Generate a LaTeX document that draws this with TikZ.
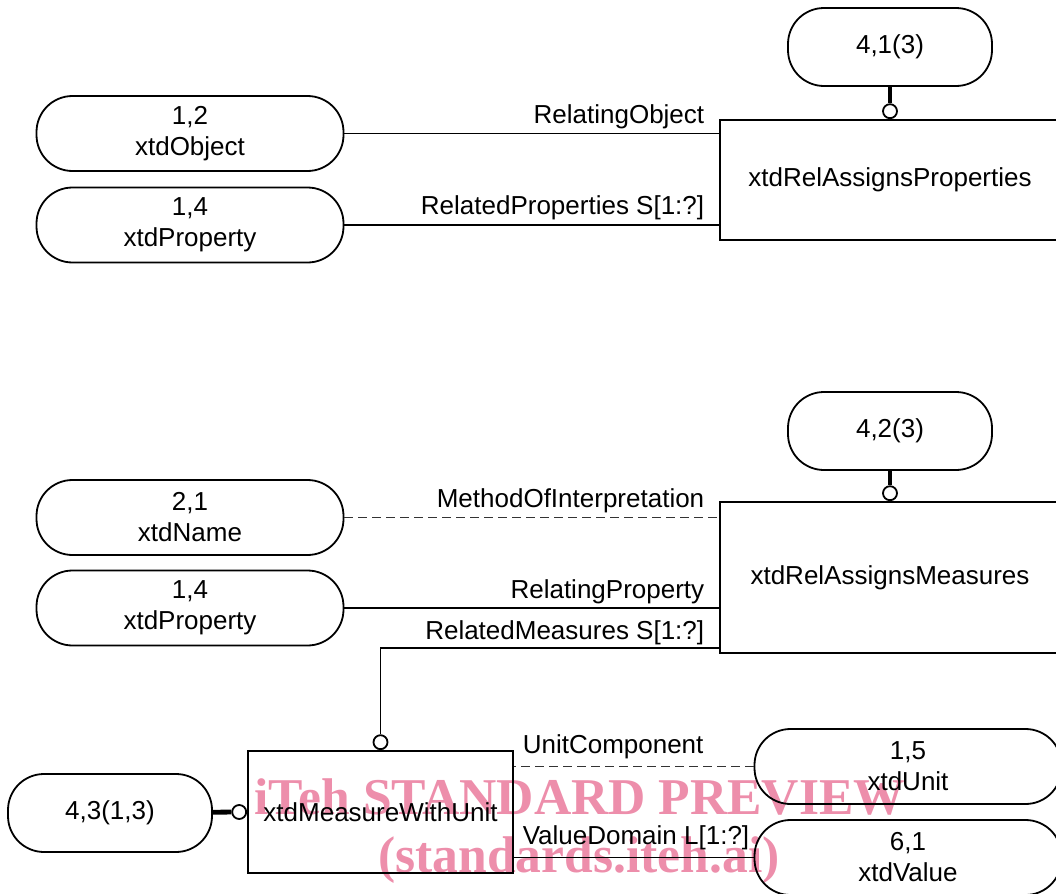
\documentclass[tikz,border=0pt]{standalone}
\usepackage{fontspec}
\setmainfont{Liberation Sans}
\newfontfamily\wmfont{Liberation Serif}
\usetikzlibrary{positioning}
\definecolor{wmpink}{RGB}{237,142,171}
\tikzset{
    pill/.style={draw, rectangle, rounded corners=18pt, line width=0.9pt,
        minimum width=153.5pt, minimum height=37.5pt, align=center,
        font=\fontsize{13}{15.5}\selectfont},
    smallpill/.style={pill, minimum width=102pt, minimum height=39pt},
    entity/.style={draw, rectangle, line width=0.9pt, inner sep=0pt,
        font=\fontsize{13}{15.5}\selectfont},
    ring/.style={draw, circle, line width=0.9pt, inner sep=0pt, minimum size=7pt, fill=white},
    thickln/.style={line width=2.4pt},
    thinln/.style={line width=0.9pt},
    dashln/.style={line width=0.9pt, black!80, dash pattern=on 4.5pt off 2.5pt},
    lbl/.style={anchor=base east, xshift=-7pt, yshift=5pt, inner sep=0pt,
        text=black, font=\fontsize{13}{15.5}\selectfont},
    lbr/.style={anchor=base west, xshift=4pt, yshift=6.5pt, inner sep=0pt,
        text=black, font=\fontsize{13}{15.5}\selectfont},
    wm/.style={anchor=base, inner sep=0pt, text=wmpink,
        font=\wmfont\bfseries\fontsize{25.8}{29}\selectfont}
}

\begin{document}
\begin{tikzpicture}[x=0.5pt, y=-0.5pt]
    \useasboundingbox (0,0) rectangle (1056,894);
    \clip (0,0) rectangle (1056,894);

    % watermark
    \node[wm] (wm1) at (580,814) {iTeh STANDARD PREVIEW};
    \node[wm] (wm2) at (579,872) {(standards.iteh.ai)};

    % upper part
    \node[smallpill] (p41) at (890,47) {4,1(3)};
    \node[entity, minimum width=170pt, minimum height=60pt] (rap) at (890,180) {xtdRelAssignsProperties};
    \node[ring, above=0pt of rap] (c41) {};
    \node[pill] (obj) at (190,133.5) {1,2\\xtdObject};
    \node[pill] (prop1) at (190,225) {1,4\\xtdProperty};

    \draw[thickln] (p41) -- (c41);
    \draw[thinln] (obj.east) -- (obj.east -| rap.west) node[lbl] {RelatingObject};
    \draw[thinln] (prop1.east) -- (prop1.east -| rap.west) node[lbl, yshift=0.5pt] {RelatedProperties S[1:?]};

    % lower part
    \node[smallpill] (p42) at (890,431) {4,2(3)};
    \node[entity, minimum width=170pt, minimum height=75.5pt] (ram) at (890,577.5) {xtdRelAssignsMeasures};
    \node[ring, above=0pt of ram] (c42) {};
    \node[pill] (name) at (190,517.5) {2,1\\xtdName};
    \node[pill] (prop2) at (190,608) {1,4\\xtdProperty};

    \draw[thickln] (p42) -- (c42);
    \draw[dashln] (name.east) -- (name.east -| ram.west) node[lbl] {MethodOfInterpretation};
    \draw[thinln] (prop2.east) -- (prop2.east -| ram.west) node[lbl] {RelatingProperty};

    \node[entity, minimum width=132.5pt, minimum height=61pt] (mwu) at (380.5,812) {xtdMeasureWithUnit};
    \node[ring, above=0pt of mwu] (cmw) {};
    \node[ring, left=0pt of mwu] (c43) {};
    \node[smallpill] (p43) at (110,813) {4,3(1,3)};
    \node[pill] (unit) at (908,766.5) {1,5\\xtdUnit};
    \node[pill] (val) at (908,857.5) {6,1\\xtdValue};

    \draw[thinln] ([yshift=3pt]ram.south west) node[lbl, yshift=-1pt] {RelatedMeasures S[1:?]} -| (cmw.north);
    \draw[thickln] (p43) -- (c43);
    \draw[dashln] (unit.west) -- (unit.west -| mwu.east) node[lbr] {UnitComponent};
    \draw[thinln] (val.west) -- (val.west -| mwu.east) node[lbr] {ValueDomain L[1:?]};
\end{tikzpicture}
\end{document}
